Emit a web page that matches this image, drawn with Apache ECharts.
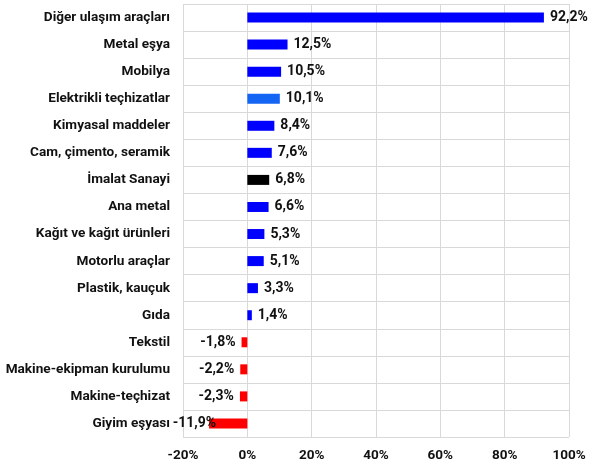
<!DOCTYPE html>
<html><head><meta charset="utf-8">
<script src="https://cdn.jsdelivr.net/npm/echarts@6/dist/echarts.min.js"></script>
<style>html,body{margin:0;padding:0;background:#fff}#c{width:602px;height:466px}</style>
</head><body><div id="c"></div>
<script>
var categories = ["Diğer ulaşım araçları","Metal eşya","Mobilya","Elektrikli teçhizatlar","Kimyasal maddeler","Cam, çimento, seramik","İmalat Sanayi","Ana metal","Kağıt ve kağıt ürünleri","Motorlu araçlar","Plastik, kauçuk","Gıda","Tekstil","Makine-ekipman kurulumu","Makine-teçhizat","Giyim eşyası"];
var values = [92.2,12.5,10.5,10.1,8.4,7.6,6.8,6.6,5.3,5.1,3.3,1.4,-1.8,-2.2,-2.3,-11.9];
var xTicks = [-20,0,20,40,60,80,100];
var colorFor = function(name, v){
  if (name === "İmalat Sanayi") return "#000000";
  if (name === "Elektrikli teçhizatlar") return "#1565F5";
  return v < 0 ? "#FF0000" : "#0000FF";
};
var FONT = "Roboto, 'Noto Sans', sans-serif";
var data = values.map(function(v,i){
  var lab = {position: v<0 ? 'left':'right'};
  if (categories[i] === "Giyim eşyası") lab.offset = [13,0];
  return {value:v, itemStyle:{color:colorFor(categories[i],v)}, label:lab};
});
var chart = echarts.init(document.getElementById('c'));
chart.setOption({
  animation:false,
  grid:{left:183,right:33,top:4,bottom:29,containLabel:false,outerBoundsMode:'none'},
  xAxis:{type:'value',min:xTicks[0],max:xTicks[xTicks.length-1],interval:20,
    axisLine:{show:false},axisTick:{show:false},
    splitLine:{show:true,lineStyle:{color:'#d9d9d9',width:1}},
    axisLabel:{formatter:'{value}%',color:'#111',fontWeight:'bold',fontSize:13.5,fontFamily:FONT,margin:12}},
  yAxis:{type:'category',data:categories,inverse:true,
    axisLine:{show:false},axisTick:{show:false},
    splitLine:{show:true,lineStyle:{color:'#d9d9d9',width:1}},
    axisLabel:{color:'#111',fontWeight:'bold',fontSize:13.6,fontFamily:FONT,margin:13}},
  series:[{type:'bar',data:data,barWidth:10,
    label:{show:true,color:'#111',fontWeight:'bold',fontSize:14,fontFamily:FONT,distance:6,
      formatter:function(p){return String(p.value).replace('.',',')+'%';}}}]
});
</script></body></html>
